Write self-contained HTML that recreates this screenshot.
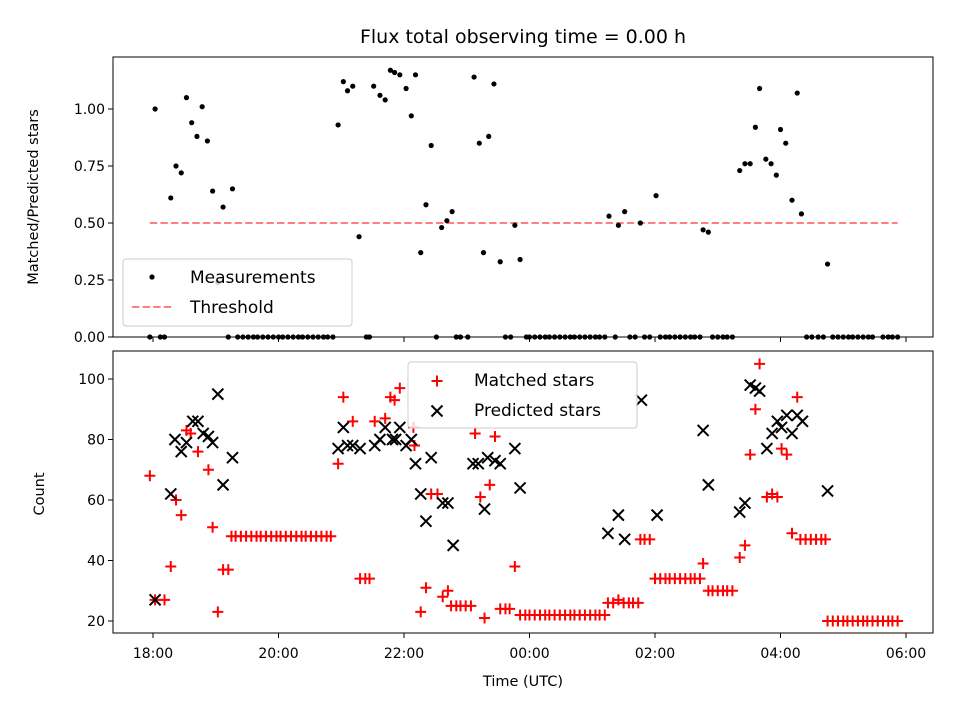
<!DOCTYPE html>
<html><head><meta charset="utf-8"><style>
html,body{margin:0;padding:0;background:#fff;}
svg{display:block;font-family:"DejaVu Sans","Liberation Sans",sans-serif;}
</style></head><body>
<svg id="fig" width="960" height="720" viewBox="0 0 960 720" xmlns="http://www.w3.org/2000/svg">
<rect x="0" y="0" width="960" height="720" fill="#fff"/>
<text x="523" y="43" font-size="19" text-anchor="middle" fill="#000">Flux total observing time = 0.00 h</text>
<g id="topPanel"></g>
<g id="botPanel"></g>
</svg>
<script>
// minutes since 18:00 UTC
const ratioTimes = [2,17,22,27,32,37,42,47,52,57,62,67,76,177,182,186,191,197,211,217,222,227,231,236,242,247,251,256,261,266,276,281,286,307,312,316,321,326,332,346,351,436,445,451,466,481,526,531,561,566,571,576,580,586,591,596,600,605,611,616,620,645];
const ratioVals = [1.00,0.61,0.75,0.72,1.05,0.94,0.88,1.01,0.86,0.64,0.24,0.57,0.65,0.93,1.12,1.08,1.10,0.44,1.10,1.06,1.04,1.17,1.16,1.15,1.09,0.97,1.15,0.37,0.58,0.84,0.48,0.51,0.55,1.14,0.85,0.37,0.88,1.11,0.33,0.49,0.34,0.53,0.49,0.55,0.50,0.62,0.47,0.46,0.73,0.76,0.76,0.92,1.09,0.78,0.76,0.71,0.91,0.85,0.60,1.07,0.54,0.32];
const zeroTimes = [-3,7,11,72,81,86,91,96,100,105,110,115,120,124,129,134,139,143,148,153,158,163,167,172,204,207,271,290,294,301,337,342,357,360,365,370,375,379,384,389,394,399,403,408,413,418,423,427,432,442,456,461,470,475,485,490,494,499,504,509,514,518,523,535,540,545,549,554,625,630,636,641,650,655,660,665,669,674,679,684,688,698,703,707,712];
const thresholdStart = -3, thresholdEnd = 712, thresholdVal = 0.5;

const matchedTimes = [-3,2,11,17,22,27,32,36,43,53,57,62,67,72,75,79,84,89,94,99,103,108,113,118,122,127,132,137,142,146,151,156,161,166,170,177,182,191,198,203,207,212,222,227,231,236,249,250,256,261,266,272,277,282,285,290,294,299,304,308,313,317,322,327,332,337,341,346,351,356,360,365,370,375,379,384,389,394,399,403,408,413,418,423,427,432,435,440,445,450,455,459,464,466,470,475,480,485,490,494,499,504,509,514,518,523,526,531,535,540,545,549,554,561,566,571,576,580,587,592,597,601,606,611,616,619,624,629,634,639,643,645,650,655,660,664,669,674,679,683,688,693,698,703,707,712];
const matchedVals = [68,27,27,38,60,55,83,82,76,70,51,23,37,37,48,48,48,48,48,48,48,48,48,48,48,48,48,48,48,48,48,48,48,48,48,72,94,86,34,34,34,86,87,94,93,97,84,78,23,31,62,62,28,30,25,25,25,25,25,82,61,21,65,81,24,24,24,38,22,22,22,22,22,22,22,22,22,22,22,22,22,22,22,22,22,22,26,26,27,26,26,26,26,47,47,47,34,34,34,34,34,34,34,34,34,34,39,30,30,30,30,30,30,41,45,75,90,105,61,62,61,77,75,49,94,47,47,47,47,47,47,20,20,20,20,20,20,20,20,20,20,20,20,20,20,20];
const predTimes = [2,17,21,27,32,38,43,48,53,57,62,67,76,177,182,186,191,198,212,217,222,229,232,236,242,247,251,256,261,266,277,282,287,306,311,317,320,327,332,346,351,435,445,451,467,482,526,531,561,566,571,576,580,587,592,597,601,606,611,616,621,645];
const predVals = [27,62,80,76,79,86,86,82,81,79,95,65,74,77,84,78,78,77,78,80,84,80,80,84,78,80,72,62,53,74,59,59,45,72,72,57,74,73,72,77,64,49,55,47,93,55,83,65,56,59,98,97,96,77,82,86,84,88,82,88,86,63];

const xTickVals = [0,120,240,360,480,600,720];
const xTickLabels = ["18:00","20:00","22:00","00:00","02:00","04:00","06:00"];
const topTickVals = [0,0.25,0.5,0.75,1.0];
const topTickLabels = ["0.00","0.25","0.50","0.75","1.00"];
const botTickVals = [20,40,60,80,100];
const botTickLabels = ["20","40","60","80","100"];

const NS = "http://www.w3.org/2000/svg";
const L = 113, R = 933;
const X = m => 153 + m * 62.75 / 60;
const TT = 57, TB = 337;
const Yt = v => 337 - v * 228;
const BT = 351, BB = 633;
const Yb = v => 621 - (v - 20) * 3.025;

function mk(parent, tag, attrs) {
  const e = document.createElementNS(NS, tag);
  for (const k in attrs) e.setAttribute(k, attrs[k]);
  parent.appendChild(e);
  return e;
}
const topG = document.getElementById('topPanel');
const botG = document.getElementById('botPanel');

// ---- top panel ----
let th = mk(topG, 'line', {x1: X(thresholdStart), x2: X(thresholdEnd), y1: Yt(thresholdVal), y2: Yt(thresholdVal), stroke: '#ff7f7f', 'stroke-width': 2, 'stroke-dasharray': '7.4,3.2'});


ratioTimes.forEach((t, i) => {
  const c = mk(topG, 'circle', {cx: X(t), cy: Yt(ratioVals[i]), r: 2.6, fill: '#000'});
  
  
});
zeroTimes.forEach(t => {
  const c = mk(topG, 'circle', {cx: X(t), cy: Yt(0), r: 2.6, fill: '#000'});
  
  
});
let f1 = mk(topG, 'rect', {x: L, y: TT, width: R - L, height: TB - TT, fill: 'none', stroke: '#000', 'stroke-width': 1});


xTickVals.forEach(v => {
  const t = mk(topG, 'line', {x1: X(v), x2: X(v), y1: TB, y2: TB + 5, stroke: '#000', 'stroke-width': 1});
  
  
});
topTickVals.forEach((v, i) => {
  const t = mk(topG, 'line', {x1: L - 5, x2: L, y1: Yt(v), y2: Yt(v), stroke: '#000', 'stroke-width': 1});
  
  
  const tx = mk(topG, 'text', {x: L - 8, y: Yt(v) + 5, 'font-size': 14, 'text-anchor': 'end'});
  tx.textContent = topTickLabels[i];
  
  
});
let yl1 = mk(topG, 'text', {x: 38, y: 197, 'font-size': 14.5, 'text-anchor': 'middle', transform: 'rotate(-90 38 197)'});
yl1.textContent = 'Matched/Predicted stars';


// legend top
let lg1 = mk(topG, 'g', {});


mk(lg1, 'rect', {x: 123, y: 259, width: 229, height: 67, rx: 3, fill: '#fff', 'fill-opacity': 0.8, stroke: '#ccc', 'stroke-width': 1});
mk(lg1, 'circle', {cx: 152, cy: 277, r: 2.6, fill: '#000'});
mk(lg1, 'line', {x1: 132, x2: 172, y1: 307, y2: 307, stroke: '#ff7f7f', 'stroke-width': 2, 'stroke-dasharray': '7.4,3.2'});
let lt1 = mk(lg1, 'text', {x: 190, y: 283, 'font-size': 17});
lt1.textContent = 'Measurements';


let lt2 = mk(lg1, 'text', {x: 190, y: 313, 'font-size': 17});
lt2.textContent = 'Threshold';



// ---- bottom panel ----
const s = 5.5;
matchedTimes.forEach((t, i) => {
  const x = X(t), y = Yb(matchedVals[i]);
  const p = mk(botG, 'path', {d: `M${x - s} ${y}H${x + s}M${x} ${y - s}V${y + s}`, stroke: '#ff0000', 'stroke-width': 2, fill: 'none'});
  
  
});
const q = 5.5;
predTimes.forEach((t, i) => {
  const x = X(t), y = Yb(predVals[i]);
  const p = mk(botG, 'path', {d: `M${x - q} ${y - q}L${x + q} ${y + q}M${x - q} ${y + q}L${x + q} ${y - q}`, stroke: '#000', 'stroke-width': 2, fill: 'none'});
  
  
});
let f2 = mk(botG, 'rect', {x: L, y: BT, width: R - L, height: BB - BT, fill: 'none', stroke: '#000', 'stroke-width': 1});


xTickVals.forEach((v, i) => {
  const t = mk(botG, 'line', {x1: X(v), x2: X(v), y1: BB, y2: BB + 5, stroke: '#000', 'stroke-width': 1});
  
  
  const tx = mk(botG, 'text', {x: X(v), y: BB + 25, 'font-size': 14, 'text-anchor': 'middle'});
  tx.textContent = xTickLabels[i];
  
  
});
botTickVals.forEach((v, i) => {
  const t = mk(botG, 'line', {x1: L - 5, x2: L, y1: Yb(v), y2: Yb(v), stroke: '#000', 'stroke-width': 1});
  
  
  const tx = mk(botG, 'text', {x: L - 8, y: Yb(v) + 5, 'font-size': 14, 'text-anchor': 'end'});
  tx.textContent = botTickLabels[i];
  
  
});
let yl2 = mk(botG, 'text', {x: 44, y: 494, 'font-size': 14.5, 'text-anchor': 'middle', transform: 'rotate(-90 44 494)'});
yl2.textContent = 'Count';


let xl = mk(botG, 'text', {x: 523, y: 686, 'font-size': 14.5, 'text-anchor': 'middle'});
xl.textContent = 'Time (UTC)';


// legend bottom
let lg2 = mk(botG, 'g', {});


mk(lg2, 'rect', {x: 408, y: 362, width: 229, height: 66, rx: 3, fill: '#fff', 'fill-opacity': 0.8, stroke: '#ccc', 'stroke-width': 1});
mk(lg2, 'path', {d: `M${437 - s} 381H${437 + s}M437 ${381 - s}V${381 + s}`, stroke: '#ff0000', 'stroke-width': 2});
mk(lg2, 'path', {d: `M${437 - q} ${411 - q}L${437 + q} ${411 + q}M${437 - q} ${411 + q}L${437 + q} ${411 - q}`, stroke: '#000', 'stroke-width': 2});
let lt3 = mk(lg2, 'text', {x: 474, y: 386, 'font-size': 17});
lt3.textContent = 'Matched stars';


let lt4 = mk(lg2, 'text', {x: 474, y: 416, 'font-size': 17});
lt4.textContent = 'Predicted stars';


</script>
</body></html>
